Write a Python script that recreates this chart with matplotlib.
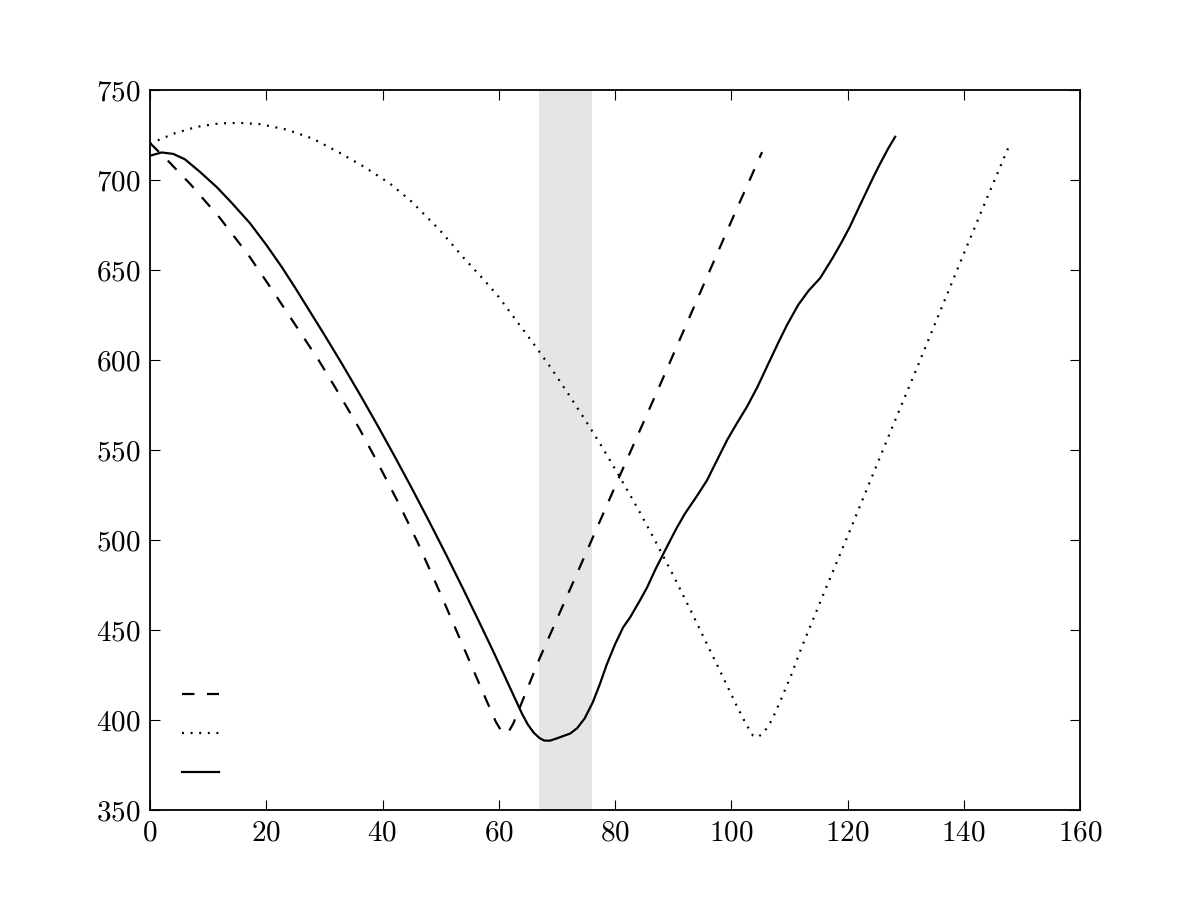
import matplotlib
matplotlib.use('Agg')
import matplotlib.pyplot as plt

plt.rcParams['font.family'] = 'serif'
plt.rcParams['font.serif'] = ['cmr10', 'DejaVu Serif']
plt.rcParams['mathtext.fontset'] = 'cm'
plt.rcParams['axes.formatter.use_mathtext'] = True
plt.rcParams['lines.scale_dashes'] = False

# dashed series
dashed_x = [0, 3, 7, 12, 17, 21, 25, 29, 32, 36, 39, 43, 46, 50, 53, 56, 58, 59.5,
            60.7, 61.7, 62.5, 63.5, 65, 67, 70, 74.5, 81, 88, 95, 100, 105.3]
dashed_y = [720.5, 711, 697.5, 679, 658, 639, 619.5, 600, 584, 562, 544, 519, 499,
            470, 447.5, 425, 410, 399, 392.5, 393.5, 398, 406, 418, 434, 456, 489,
            537, 588, 640, 677, 715.5]

# dotted series
dotted_x = [0, 1.3, 4.3, 8, 12, 15.5, 19, 23.5, 28, 32.7, 37, 41.3, 45, 49.9, 53.9,
            57.6, 60, 63, 66, 69, 72, 75, 78, 81, 84, 87, 90, 93, 96, 99, 101,
            102.5, 103.7, 104.5, 105.5, 107, 108.5, 110.2, 112, 116, 120, 124, 128,
            132, 136, 140, 144, 148]
dotted_y = [720, 722, 726, 729.5, 731.5, 731.7, 731, 728, 723, 715, 707, 698, 688,
            672, 657, 644, 635, 622, 609, 595.5, 581, 566, 550.5, 534, 517, 499,
            480.5, 461, 441, 421, 407.5, 398, 391.5, 390.5, 392.5, 400, 411, 424,
            439.5, 471, 502, 533.5, 565, 596, 627.5, 659, 690, 720.5]

# solid series
solid_x = [0, 2, 4, 6, 8.6, 11.5, 14, 17.2, 20, 22.7, 25, 27.5, 30, 33, 36, 39, 42,
           45, 48, 51, 54, 57, 59, 61, 62, 63, 64, 65, 66, 67, 67.8, 68.8,
           70, 72.3, 73.5, 74.8, 76.2, 77.4, 78.6, 80, 81.4, 82.6, 84.3, 85.5, 87,
           88.9, 90.5, 92, 94, 95.8, 97.5, 99.3, 101, 102.7, 104.5, 106.1, 108,
           109.6, 111.5, 113.3, 115.3, 117.5, 119, 120.4, 122, 123.4, 124.5, 125.6,
           127, 128.2]
solid_y = [713.5, 715.3, 714.5, 711.5, 704.5, 696, 687.5, 676, 664, 651.5, 640, 627,
           614, 598, 581.5, 564.5, 547, 529, 510.5, 491.5, 472, 452, 438.5, 424.5,
           417.5, 410.5, 403.5, 397.5, 393, 390, 388.6, 388.5, 389.8, 392.5, 395.5,
           401, 410, 420, 431, 442, 451.5, 457, 466.5, 473.5, 484, 496, 506, 514.5,
           524, 533, 544, 555.6, 565, 574, 585, 596, 609, 619.5, 630.5, 638.5,
           645.5, 657, 665.5, 674, 685, 694.5, 702, 709, 717.5, 724]

# shaded band
band_start = 67
band_end = 76

fig = plt.figure(figsize=(12, 9), dpi=100)
ax = fig.add_axes([0.125, 0.1, 0.775, 0.8])

ax.axvspan(band_start, band_end, color='#e5e5e5', lw=0, zorder=0)
l1, = ax.plot(dashed_x, dashed_y, color='k', lw=1.6, dashes=(9, 9))
l2, = ax.plot(dotted_x, dotted_y, color='k', lw=1.6, dashes=(1.4, 4.8))
l3, = ax.plot(solid_x, solid_y, color='k', lw=1.6)

ax.set_xlim(0, 160)
ax.set_ylim(350, 750)
ax.set_xticks(range(0, 161, 20))
ax.set_yticks(range(350, 751, 50))
ax.tick_params(direction='in', length=7, width=0.8, labelsize=21, pad=7,
               top=True, right=True)
for s in ax.spines.values():
    s.set_linewidth(1.3)

ax.legend([l1, l2, l3], [' ', ' ', ' '], loc='lower left', frameon=False,
          fontsize=21, handlelength=1.25, labelspacing=0.43,
          bbox_to_anchor=(0.022, 0.0143), borderaxespad=0.0)

fig.savefig('out.png', dpi=100, facecolor='white')
